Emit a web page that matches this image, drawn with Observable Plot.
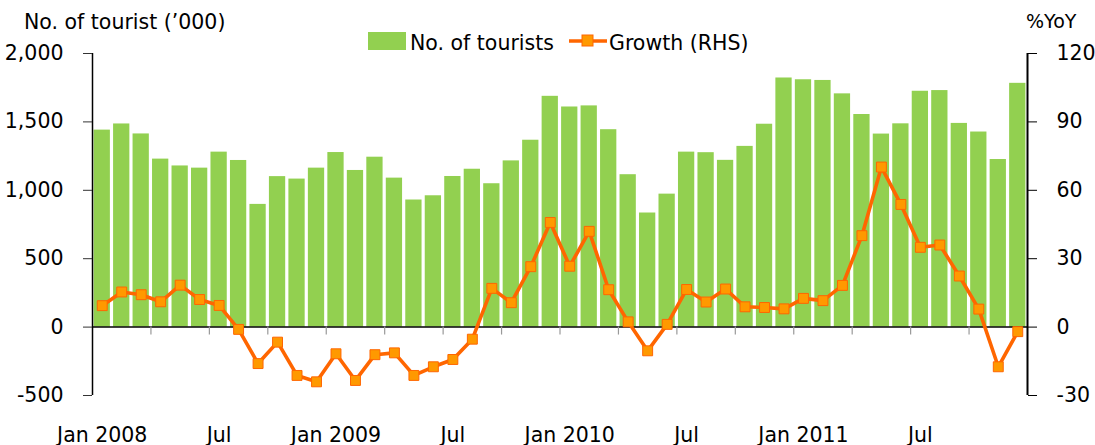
<!DOCTYPE html>
<html>
<head>
<meta charset="utf-8">
<script src="https://cdn.jsdelivr.net/npm/d3@7"></script>
<script src="https://cdn.jsdelivr.net/npm/@observablehq/plot@0.6"></script>
<style>
  html, body { margin: 0; padding: 0; background: #fff; }
  #chart svg { display: block; }
</style>
</head>
<body>
<div id="chart"></div>
<script>
// ---- Data ----
const months = [
  "Jan 2008","Feb 2008","Mar 2008","Apr 2008","May 2008","Jun 2008","Jul 2008","Aug 2008","Sep 2008","Oct 2008","Nov 2008","Dec 2008",
  "Jan 2009","Feb 2009","Mar 2009","Apr 2009","May 2009","Jun 2009","Jul 2009","Aug 2009","Sep 2009","Oct 2009","Nov 2009","Dec 2009",
  "Jan 2010","Feb 2010","Mar 2010","Apr 2010","May 2010","Jun 2010","Jul 2010","Aug 2010","Sep 2010","Oct 2010","Nov 2010","Dec 2010",
  "Jan 2011","Feb 2011","Mar 2011","Apr 2011","May 2011","Jun 2011","Jul 2011","Aug 2011","Sep 2011","Oct 2011","Nov 2011","Dec 2011"
];
const tourists = [
  1440,1485,1412,1228,1178,1162,1279,1218,897,1100,1082,1162,
  1276,1145,1242,1089,929,960,1101,1154,1048,1215,1366,1687,
  1609,1617,1443,1114,834,972,1279,1275,1219,1321,1483,1821,
  1808,1803,1705,1554,1411,1486,1724,1729,1489,1426,1225,1782
];
const growth = [
  9.4,15.4,14.2,11.1,18.4,12.1,9.5,-1.0,-16.0,-6.6,-21.2,-24.0,
  -11.7,-23.4,-12.1,-11.3,-21.2,-17.4,-14.2,-5.3,17.0,10.7,26.5,45.9,
  26.7,42.0,16.4,2.3,-10.4,1.2,16.5,11.0,16.7,8.9,8.6,8.0,
  12.6,11.6,18.3,40.1,70.2,53.8,35.0,36.0,22.4,7.9,-17.4,-2.0
];
const xTickMonths = ["Jan 2008","Jul 2008","Jan 2009","Jul 2009","Jan 2010","Jul 2010","Jan 2011","Jul 2011"];
const xTickLabels = ["Jan 2008","Jul","Jan 2009","Jul","Jan 2010","Jul","Jan 2011","Jul"];
const leftTicks = [-500, 0, 500, 1000, 1500, 2000];
const rightTicks = [-30, 0, 30, 60, 90, 120];
const leftDomain = [-500, 2000];
const rightDomain = [-30, 120];

const titleLeft = "No. of tourist (\u2019000)";
const titleRight = "%YoY";
const seriesBar = "No. of tourists";
const seriesLine = "Growth (RHS)";

// ---- Build ----
const ratio = rightDomain[1] / leftDomain[1];
const data = months.map((m, i) => ({i, month: m, tourists: tourists[i], growth: growth[i]}));
const quarterBounds = months.map((m, i) => i).filter(i => i > 0 && i % 3 === 0).map(i => i - 0.5);
const xStart = -0.5, xEnd = months.length - 0.5;
const fmtNum = d => (d < 0 ? "-" : "") + d3.format(",")(Math.abs(d));

const GREEN = "#92D050", ORANGE = "#FF6600", ORANGE_FILL = "#FF9900";

const chart = Plot.plot({
  width: 1095,
  height: 445,
  marginLeft: 92,
  marginRight: 68,
  marginTop: 53,
  marginBottom: 50,
  style: {fontFamily: "DejaVu Sans", fontSize: "20.5px", color: "#000", background: "#fff", overflow: "visible"},
  x: {type: "linear", domain: [xStart, xEnd]},
  y: {domain: leftDomain},
  marks: [
    Plot.rectY(data, {x1: d => d.i - 0.5, x2: d => d.i + 0.5, y: "tourists", fill: GREEN, insetLeft: 1.6, insetRight: 1.6}),
    Plot.ruleY([0], {stroke: "#000", strokeWidth: 1.5}),
    Plot.ruleX(quarterBounds, {y1: 0, y2: -58, stroke: "#999", strokeWidth: 1.2}),
    Plot.ruleX([xStart], {y1: leftDomain[0], y2: leftDomain[1], stroke: "#000", strokeWidth: 1.5}),
    Plot.ruleX([xEnd], {y1: leftDomain[0], y2: leftDomain[1], stroke: "#000", strokeWidth: 2}),
    Plot.line(data, {x: "i", y: d => d.growth / ratio, stroke: ORANGE, strokeWidth: 3.6}),
    Plot.dot(data, {x: "i", y: d => d.growth / ratio, symbol: "square", r: 5.6, fill: ORANGE_FILL, stroke: ORANGE, strokeWidth: 1}),
    Plot.axisY({anchor: "left", ticks: leftTicks, tickFormat: fmtNum, tickSize: 9, tickPadding: 20, stroke: "#333", label: null}),
    Plot.axisY({anchor: "right", ticks: rightTicks.map(v => v / ratio), tickFormat: v => fmtNum(Math.round(v * ratio)), tickSize: 9, tickPadding: 20, stroke: "#000", label: null}),
    Plot.axisX({anchor: "bottom", ticks: xTickMonths.map(m => months.indexOf(m)), tickFormat: i => xTickLabels[xTickMonths.indexOf(months[i])], tickSize: 0, tickPadding: 32, label: null})
  ]
});

document.getElementById("chart").appendChild(chart);

// ---- Titles & legend ----
const svg = d3.select(chart);
const g = svg.append("g").attr("font-family", "DejaVu Sans").attr("font-size", "20.5px").attr("fill", "#000").attr("text-anchor", "start");
g.append("text").attr("x", 24).attr("y", 29).text(titleLeft);
g.append("text").attr("x", 1026).attr("y", 28).attr("font-size", "19px").text(titleRight);
g.append("rect").attr("x", 368).attr("y", 32).attr("width", 38).attr("height", 18).attr("fill", GREEN);
g.append("text").attr("x", 410).attr("y", 50).text(seriesBar);
g.append("line").attr("x1", 569).attr("x2", 607).attr("y1", 41).attr("y2", 41).attr("stroke", ORANGE).attr("stroke-width", 3.6);
g.append("rect").attr("x", 582).attr("y", 35).attr("width", 11).attr("height", 11).attr("fill", ORANGE_FILL).attr("stroke", ORANGE).attr("stroke-width", 1);
g.append("text").attr("x", 609).attr("y", 50).text(seriesLine);
</script>
</body>
</html>
